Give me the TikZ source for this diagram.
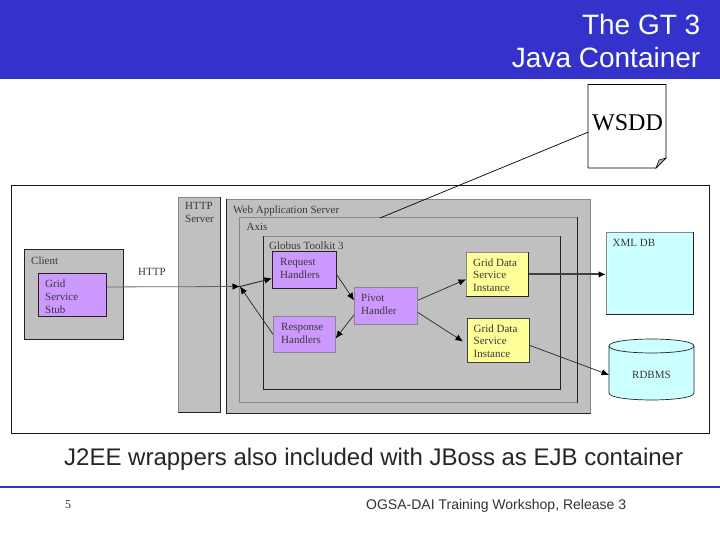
\documentclass[tikz,border=0pt]{standalone}
\usepackage{fontspec}
\setmainfont{Liberation Sans}
\newfontfamily\serifface{Liberation Serif}
\usetikzlibrary{arrows.meta,positioning}
\definecolor{barblue}{RGB}{51,51,204}
\definecolor{panelgrey}{RGB}{192,192,192}
\definecolor{lilac}{RGB}{204,153,255}
\definecolor{paleyellow}{RGB}{255,255,153}
\definecolor{palecyan}{RGB}{204,255,255}
\definecolor{inkdark}{RGB}{35,35,35}
\definecolor{edgegrey}{RGB}{135,135,135}
\tikzset{
  x=1pt,y=-1pt,
  sized/.style 2 args={minimum width=#1pt,minimum height=#2pt},
  box/.style={draw=inkdark,line width=0.9pt,rectangle,inner sep=0pt,anchor=north west},
  softbox/.style={draw=edgegrey,line width=0.7pt,rectangle,inner sep=0pt,anchor=north west},
  darkedge/.style={draw=inkdark,line width=0.9pt},
  lbl/.style={font=\serifface\fontsize{11}{12.6}\selectfont,text=black!78,align=left,anchor=north west,inner sep=0pt,yshift=-2.5pt},
  conn/.style={draw=black!85,line width=0.7pt,-{Latex[length=7.5pt,width=6.5pt,color=black]}},
  heading/.style={font=\fontsize{28}{33}\selectfont,text=white,align=right,anchor=north east,inner sep=0pt}
}
\begin{document}
\begin{tikzpicture}
\useasboundingbox (0,0) rectangle (720,540);
\fill[white] (0,0) rectangle (720,540);
% title
\node[fill=barblue,rectangle,inner sep=0pt,anchor=north west,sized={720}{79}] (bar) at (0,0) {};
\node[heading] (title) at (700.5,14) {The GT 3\\Java Container};
% frame
\node[draw=black!90,line width=1.1pt,rectangle,inner sep=0pt,anchor=north west,sized={698}{248}] (frame) at (11,185) {};
% containers
\node[softbox,fill=panelgrey,sized={42}{215}] (https) at (178,197) {};
\draw[darkedge] (https.north east) -- (https.south east) -- (https.south west);
\node[softbox,fill=panelgrey,sized={364}{214}] (was) at (226,199) {};
\draw[darkedge] (was.north west) -- (was.south west) -- (was.south east);
\node[softbox,fill=panelgrey,sized={338}{185}] (axis) at (239,217) {};
\draw[darkedge] (axis.north east) -- (axis.south east);
\node[softbox,fill=panelgrey,sized={297}{153}] (globus) at (263,236) {};
\draw[darkedge] (globus.north west) -- (globus.south west) -- (globus.south east) -- (globus.north east);
\node[box,fill=panelgrey,sized={99}{90}] (client) at (24,249) {};
% inner boxes
\node[box,fill=lilac,sized={68}{43}] (stub) at (38,273) {};
\node[box,fill=lilac,sized={64}{37}] (req) at (272,251) {};
\node[softbox,fill=lilac,sized={62}{36}] (resp) at (273,316) {};
\node[softbox,fill=lilac,sized={63}{37}] (pivot) at (354,287) {};
\node[softbox,fill=paleyellow,sized={62}{44}] (gds1) at (466,252) {};
\draw[darkedge] (gds1.north east) -- (gds1.south east) -- (gds1.south west);
\node[box,draw=black!75,fill=paleyellow,sized={62}{44}] (gds2) at (467,318) {};
\node[softbox,fill=palecyan,sized={87}{82}] (xml) at (606,232) {};
\draw[darkedge] (xml.north east) -- (xml.south east) -- (xml.south west);
% cylinder
\path[draw=inkdark,line width=0.7pt,fill=palecyan] (609,346) -- (609,393) .. controls (609,402.3) and (694,402.3) .. (694,393) -- (694,346) .. controls (694,336.7) and (609,336.7) .. (609,346) -- cycle;
\draw[draw=inkdark,line width=0.7pt] (609,346) .. controls (609,355.3) and (694,355.3) .. (694,346);
\node[inner sep=0pt,sized={85}{61},anchor=north west] (rdbms) at (609,339) {};
% labels
\node[lbl] (lhttps) at (185,199.5) {HTTP\\Server};
\node[lbl] (lwas) at (233,203) {Web Application Server};
\node[lbl] (laxis) at (246.5,221) {Axis};
\node[lbl] (lglobus) at (269,239) {Globus Toolkit 3};
\node[lbl] (lclient) at (31,254) {Client};
\node[lbl] (lstub) at (45,277.5) {Grid\\Service\\Stub};
\node[lbl] (lreq) at (280,255.5) {Request\\Handlers};
\node[lbl] (lresp) at (281,321) {Response\\Handlers};
\node[lbl] (lpivot) at (361,291.5) {Pivot\\Handler};
\node[lbl] (lg1) at (473,256) {Grid Data\\Service\\Instance};
\node[lbl] (lg2) at (473.5,322) {Grid Data\\Service\\Instance};
\node[lbl] (lxml) at (612.5,237) {XML DB};
\node[lbl] (lrdbms) at (632,368.5) {RDBMS};
\node[lbl] (lhttp) at (138,266) {HTTP};
% connectors
\coordinate (junction) at (240,286.5);
\draw[conn,draw=black!60,line width=0.8pt] ([yshift=8pt]stub.east) -- (junction);
\draw[conn,line width=0.9pt] (junction) -- ([yshift=-8.5pt]req.west);
\draw[conn] ([yshift=0pt]resp.west) -- (junction);
\draw[conn] ([yshift=-5pt]req.east) -- ([yshift=5.5pt]pivot.west);
\draw[conn] ([yshift=-9pt]pivot.west) -- ([yshift=-4pt]resp.east);
\draw[conn] ([yshift=5.5pt]pivot.east) -- ([yshift=-5pt]gds1.west);
\draw[conn] ([yshift=-6.5pt]pivot.east) -- ([yshift=-1pt,xshift=-4pt]gds2.west);
\draw[conn,line width=2pt,draw=black!75] (gds1.east) -- (xml.west |- gds1.east);
\draw[conn] ([yshift=-5pt]gds2.east) -- (rdbms.west |- lrdbms.west);
% WSDD page
\path[draw=black,line width=0.8pt,fill=white] (588,84.5) -- (666,84.5) -- (666,158) -- (656,168) -- (588,168) -- cycle;
\path[draw=black,line width=0.5pt,fill=black!30] (666,158) -- (659,160) -- (656,168) -- cycle;
\node[inner sep=0pt,sized={78}{84},anchor=north west] (page) at (588,84) {};
\node[font=\serifface\fontsize{24}{24}\selectfont,inner sep=0pt] (lwsdd) at (627.5,122.5) {WSDD};
\coordinate (axispoint) at (380,218);
\draw[black,line width=0.7pt] ([yshift=-6pt]page.west) -- (axispoint);
% footer
\node[font=\fontsize{24}{26}\selectfont,text=black!85,inner sep=0pt,anchor=west] (note) at (64,459) {J2EE wrappers also included with JBoss as EJB container};
\fill[barblue] (0,485.5) rectangle (720,487.5);
\node[font=\serifface\fontsize{12}{14}\selectfont,text=black!80,inner sep=0pt] (pageno) at (68,505) {5};
\node[font=\fontsize{14}{16}\selectfont,text=black!80,inner sep=0pt,anchor=west] (foot) at (366,505.5) {OGSA-DAI Training Workshop, Release 3};
\end{tikzpicture}
\end{document}
